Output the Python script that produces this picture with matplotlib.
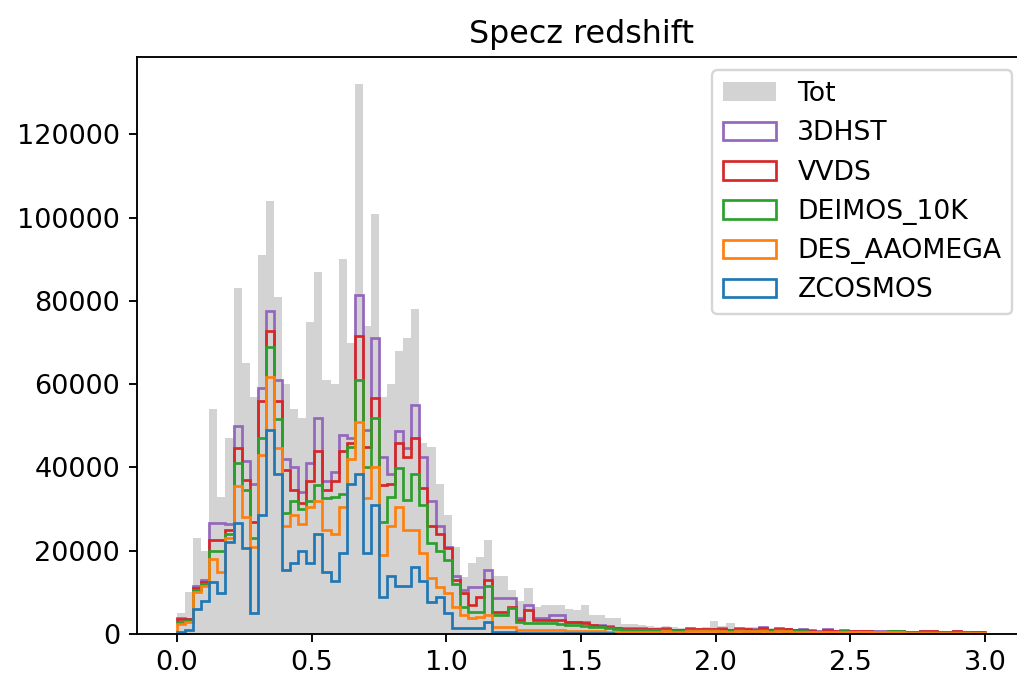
import matplotlib.pyplot as plt
import numpy as np

# 100 redshift bins of width 0.03 between 0 and 3
edges = np.linspace(0.0, 3.0, 101)
centers = 0.5 * (edges[:-1] + edges[1:])

# counts in thousands
tot = [
    5, 10, 23, 20, 54, 33, 47, 83, 65, 57,
    91, 104, 81, 60, 54, 52, 75, 87, 61, 60,
    90, 70, 132, 74, 101, 57, 60, 68, 71, 78,
    46, 45, 36, 28.7, 21, 13.8, 17, 18.6, 22.6, 14,
    14, 10.6, 8, 11, 6.6, 7, 7, 7, 6, 5.8,
    7, 4.6, 4.6, 3.8, 3.8, 2.5, 2.5, 2.2, 2.0, 1.8,
    2.0, 1.6, 1.5, 1.8, 1.5, 1.6, 3.2, 2.0, 2.6, 1.6,
    1.8, 1.6, 1.8, 1.5, 1.6, 1.4, 1.2, 1.4, 1.2, 1.0,
    1.2, 1.0, 1.2, 1.0, 1.0, 1.0, 0.9, 0.9, 1.0, 1.0,
    0.8, 0.8, 0.9, 0.9, 0.8, 0.8, 0.9, 0.8, 0.6, 0.5,
]

# top of each stacked step outline (cumulative, thousands)
top_zcosmos = [
    0.5, 1.0, 6.0, 8.0, 12.5, 9.8, 22, 26.7, 20.6, 5,
    28.5, 49, 38.5, 15.3, 17, 20, 17, 24, 15, 12.8,
    19.5, 36, 38.5, 19.5, 31, 9, 14, 11.5, 11.5, 16,
    12.8, 7.8, 9, 5, 1.4, 1.4, 1.4, 1.4, 3, 0.5,
    0.5, 0.5, 0.3, 0.3, 0.3, 0.3, 0.3, 0.3, 0.2, 0.2,
    0.2, 0.2, 0.2, 0.2, 0.1, 0.1, 0.1, 0.1, 0.1, 0.1,
    0.1, 0.1, 0.1, 0.1, 0.1, 0.1, 0.1, 0.1, 0.1, 0.1,
    0.1, 0.1, 0.1, 0.1, 0.1, 0.1, 0.05, 0.05, 0.05, 0.05,
    0.05, 0.05, 0.05, 0.05, 0.05, 0.05, 0.05, 0.05, 0.05, 0.05,
    0.05, 0.05, 0.05, 0.05, 0.05, 0.05, 0.05, 0.05, 0.05, 0.05,
]
top_des = [
    2.5, 3.0, 10.0, 11.5, 18, 15, 23, 35.5, 28, 21,
    43, 61.7, 44.7, 26, 28.5, 26.5, 30.5, 32, 25, 24,
    30.5, 42, 51, 32.7, 40, 19, 26, 30.5, 25, 25,
    19.5, 13.4, 11.4, 9.8, 6.6, 4.6, 3.8, 4.0, 4.6, 1.8,
    1.8, 1.8, 1.0, 1.0, 1.0, 1.0, 1.0, 1.0, 0.8, 0.8,
    0.8, 0.8, 0.8, 0.6, 0.6, 0.5, 0.5, 0.6, 0.6, 0.6,
    0.7, 0.6, 0.6, 0.7, 0.7, 0.7, 0.8, 0.7, 0.6, 0.8,
    0.7, 0.7, 0.8, 0.6, 0.8, 0.7, 0.6, 0.6, 0.5, 0.4,
    0.5, 0.5, 0.6, 0.5, 0.5, 0.5, 0.4, 0.4, 0.4, 0.4,
    0.3, 0.3, 0.3, 0.3, 0.3, 0.3, 0.3, 0.3, 0.2, 0.2,
]
top_deimos = [
    3.0, 3.2, 10.5, 12.0, 20, 20, 24, 41, 34.7, 23,
    47, 69, 51.7, 29, 32, 30, 31.9, 35.8, 32.7, 33,
    33.6, 45, 61, 40, 52, 27, 33, 39.8, 32.3, 38.5,
    31, 21.8, 20, 17.8, 12, 6.6, 5.4, 5.4, 11.5, 4.6,
    4.6, 6.2, 3.0, 2.6, 2.6, 2.6, 2.6, 2.4, 2.2, 2.2,
    2.0, 1.8, 1.6, 1.4, 1.2, 1.0, 1.0, 1.0, 0.9, 0.9,
    1.0, 0.8, 0.8, 1.0, 0.9, 0.9, 0.9, 0.8, 0.7, 0.9,
    0.8, 0.8, 0.9, 0.7, 0.9, 0.8, 0.7, 0.7, 0.6, 0.5,
    0.6, 0.6, 0.7, 0.6, 0.6, 0.6, 0.5, 0.6, 0.7, 0.7,
    0.4, 0.4, 0.4, 0.4, 0.4, 0.4, 0.4, 0.4, 0.3, 0.3,
]
top_vvds = [
    3.5, 3.5, 11.0, 12.5, 22.6, 22.6, 25, 44.7, 37, 27,
    56, 72.7, 56, 39.4, 34.6, 31.4, 36.7, 44, 34.5, 36.7,
    44, 46, 71.7, 45, 56.6, 35.8, 36, 46, 42.5, 47,
    35, 25.9, 24, 20.6, 13, 9.8, 7, 9, 13, 5.4,
    5.4, 6.6, 3.4, 5.8, 3.4, 3.4, 3.4, 3.4, 2.8, 2.8,
    2.6, 2.2, 2.0, 1.8, 1.4, 1.2, 1.2, 1.3, 1.1, 1.1,
    1.3, 0.9, 0.9, 1.3, 1.1, 1.1, 1.1, 1.2, 0.9, 1.3,
    1.1, 1.0, 1.5, 0.9, 1.3, 1.1, 0.9, 1.0, 0.8, 0.6,
    0.9, 0.7, 0.8, 0.7, 0.7, 0.7, 0.6, 0.6, 0.7, 0.7,
    0.6, 0.6, 0.7, 0.7, 0.6, 0.6, 0.7, 0.6, 0.5, 0.4,
]
top_3dhst = [
    3.8, 3.7, 11.5, 13.0, 26.7, 26.7, 26.5, 50, 41.5, 36,
    59, 77.5, 61, 42, 40, 34, 41, 51.8, 36.7, 39,
    47.8, 47, 81.4, 49, 71, 42.5, 38.5, 48.7, 44.7, 55,
    42.5, 32, 26, 21, 14, 10.5, 11.4, 11.4, 15.4, 8.6,
    8.6, 8.6, 3.8, 7.0, 3.8, 3.8, 4.6, 4.6, 3.0, 3.0,
    3.0, 2.2, 2.2, 2.0, 1.4, 1.4, 1.4, 1.4, 1.2, 1.2,
    1.4, 1.0, 1.0, 1.4, 1.2, 1.2, 1.2, 1.4, 1.0, 1.4,
    1.2, 1.2, 1.6, 1.0, 1.4, 1.2, 1.0, 1.2, 0.9, 0.7,
    1.1, 0.8, 0.9, 0.8, 0.8, 0.8, 0.7, 0.7, 0.8, 0.8,
    0.6, 0.6, 0.7, 0.7, 0.6, 0.6, 0.7, 0.6, 0.5, 0.4,
]

surveys = ["ZCOSMOS", "DES_AAOMEGA", "DEIMOS_10K", "VVDS", "3DHST"]
tops = [top_zcosmos, top_des, top_deimos, top_vvds, top_3dhst]

# per-survey counts from the stacked outlines
levels = np.vstack([np.zeros(len(centers))] + [np.array(t) for t in tops])
counts = np.diff(levels, axis=0) * 1000

fig = plt.figure(figsize=(6, 4), dpi=169.5)
ax = fig.add_axes([0.1343, 0.0649, 0.874, 0.851])

ax.hist(centers, bins=edges, weights=np.array(tot) * 1000,
        color="lightgrey", label="Tot")
ax.hist([centers] * len(surveys), bins=edges, weights=list(counts),
        histtype="step", stacked=True, label=surveys, linewidth=1.15)

ax.set_title("Specz redshift", fontsize=13.5)
ax.tick_params(labelsize=11.5)
ax.legend(loc="upper right", fontsize=11.3)

fig.savefig("out.png")
